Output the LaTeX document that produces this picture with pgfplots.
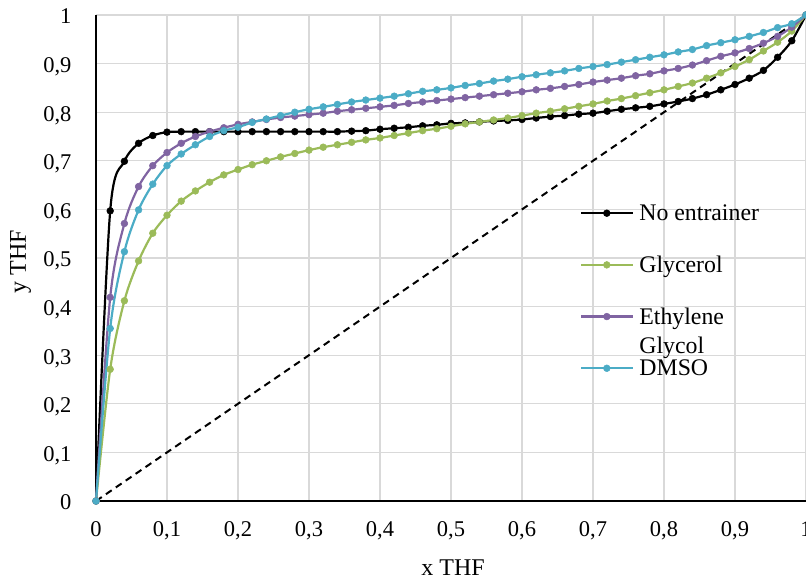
\documentclass[border=0pt]{standalone}
\usepackage{pgfplots}
\pgfplotsset{compat=1.18}
\usepackage{fontspec}
\setmainfont{Liberation Serif}
\definecolor{cBlack}{HTML}{000000}
\definecolor{cGreen}{HTML}{9BBB59}
\definecolor{cPurple}{HTML}{8064A2}
\definecolor{cCyan}{HTML}{4BACC6}
\definecolor{cGrid}{HTML}{D9D9D9}
\newcommand{\EG}{\begin{tabular}[t]{@{}l@{}}Ethylene\\Glycol\end{tabular}}
\begin{document}
\begin{tikzpicture}
\useasboundingbox (-96pt,-79pt) rectangle (710pt,501pt);
\clip (-96pt,-79pt) rectangle (710pt,501pt);
\begin{axis}[
  scale only axis, width=710pt, height=486pt,
  xmin=0, xmax=1, ymin=0, ymax=1,
  clip=false,
  axis x line*=bottom, axis y line*=left,
  axis line style={-, black, line width=1.6pt},
  xtick={0,0.1,0.2,0.3,0.4,0.5,0.6,0.7,0.8,0.9,1},
  ytick={0,0.1,0.2,0.3,0.4,0.5,0.6,0.7,0.8,0.9,1},
  major tick length=0pt, tick style={draw=none},
  grid=major, major grid style={draw=cGrid, line width=1.3pt},
  /pgf/number format/.cd, use comma, fixed, assume math mode=true, 1000 sep={},
  /pgfplots/.cd,
  tick label style={font=\fontsize{22.5}{27}\selectfont},
  xticklabel style={anchor=base, yshift=-36pt},
  yticklabel style={anchor=base east, xshift=-21pt, yshift=-9pt},
  xlabel={x THF}, ylabel={y THF},
  label style={font=\fontsize{24}{29}\selectfont},
  xlabel style={at={(axis description cs:0.503,-0.1523)}, anchor=base},
  ylabel style={at={(axis description cs:-0.0986,0.492)}, anchor=base},
  legend cell align=left,
  legend style={draw=none, fill=none, at={(axis description cs:0.6817,0.620)}, anchor=north west,
    inner sep=0pt, row sep=25.1pt, column sep=6pt,
    nodes={inner sep=0pt, text height=21pt, text depth=5.6pt, font=\fontsize{23.8}{29}\selectfont}},
  legend image code/.code={\draw[mark repeat=2,mark phase=2,#1] plot coordinates {(0pt,0pt) (25.5pt,0pt) (51pt,0pt)};},
  every axis plot/.append style={line width=2.2pt, mark=*, mark size=3.4pt, smooth, tension=0.5},
]
\addplot[black, line width=2pt, dash pattern=on 7pt off 5pt, mark=none, sharp plot, forget plot] coordinates {(0,0) (1,1)};
\addplot[cBlack, mark options={fill=cBlack, draw=cBlack, line width=0.5pt}] coordinates {
(0,0) (0.02,0.597) (0.04,0.699) (0.06,0.736) (0.08,0.752) (0.10,0.759) (0.12,0.760) (0.14,0.760)
(0.16,0.760) (0.18,0.760) (0.20,0.760) (0.22,0.760) (0.24,0.760) (0.26,0.760) (0.28,0.760) (0.30,0.760)
(0.32,0.760) (0.34,0.760) (0.36,0.761) (0.38,0.762) (0.40,0.765) (0.42,0.767) (0.44,0.769) (0.46,0.772)
(0.48,0.774) (0.50,0.777) (0.52,0.778) (0.54,0.780) (0.56,0.782) (0.58,0.783) (0.60,0.785) (0.62,0.788)
(0.64,0.791) (0.66,0.793) (0.68,0.796) (0.70,0.798) (0.72,0.802) (0.74,0.806) (0.76,0.809) (0.78,0.812)
(0.80,0.817) (0.82,0.822) (0.84,0.828) (0.86,0.836) (0.88,0.846) (0.90,0.857) (0.92,0.870) (0.94,0.886)
(0.96,0.913) (0.98,0.947) (1,1)};
\addlegendentry{No entrainer}
\addplot[cGreen, mark options={fill=cGreen, draw=cGreen, line width=0.5pt}] coordinates {
(0,0) (0.02,0.271) (0.04,0.412) (0.06,0.494) (0.08,0.551) (0.10,0.588) (0.12,0.617) (0.14,0.638)
(0.16,0.656) (0.18,0.671) (0.20,0.682) (0.22,0.692) (0.24,0.700) (0.26,0.708) (0.28,0.715) (0.30,0.722)
(0.32,0.728) (0.34,0.733) (0.36,0.738) (0.38,0.743) (0.40,0.747) (0.42,0.752) (0.44,0.757) (0.46,0.762)
(0.48,0.766) (0.50,0.771) (0.52,0.776) (0.54,0.780) (0.56,0.784) (0.58,0.788) (0.60,0.793) (0.62,0.798)
(0.64,0.802) (0.66,0.807) (0.68,0.812) (0.70,0.817) (0.72,0.823) (0.74,0.828) (0.76,0.834) (0.78,0.840)
(0.80,0.846) (0.82,0.853) (0.84,0.860) (0.86,0.870) (0.88,0.881) (0.90,0.894) (0.92,0.908) (0.94,0.926)
(0.96,0.944) (0.98,0.967) (1,1)};
\addlegendentry{Glycerol}
\addplot[cPurple, mark options={fill=cPurple, draw=cPurple, line width=0.5pt}] coordinates {
(0,0) (0.02,0.419) (0.04,0.571) (0.06,0.647) (0.08,0.690) (0.10,0.717) (0.12,0.736) (0.14,0.750)
(0.16,0.760) (0.18,0.768) (0.20,0.775) (0.22,0.780) (0.24,0.785) (0.26,0.789) (0.28,0.792) (0.30,0.795)
(0.32,0.798) (0.34,0.802) (0.36,0.805) (0.38,0.808) (0.40,0.811) (0.42,0.814) (0.44,0.818) (0.46,0.821)
(0.48,0.824) (0.50,0.827) (0.52,0.830) (0.54,0.833) (0.56,0.836) (0.58,0.839) (0.60,0.842) (0.62,0.846)
(0.64,0.849) (0.66,0.853) (0.68,0.857) (0.70,0.862) (0.72,0.866) (0.74,0.870) (0.76,0.875) (0.78,0.879)
(0.80,0.885) (0.82,0.890) (0.84,0.897) (0.86,0.906) (0.88,0.915) (0.90,0.922) (0.92,0.931) (0.94,0.942)
(0.96,0.956) (0.98,0.975) (1,1)};
\addlegendentry{\EG}
\addplot[cCyan, mark options={fill=cCyan, draw=cCyan, line width=0.5pt}] coordinates {
(0,0) (0.02,0.355) (0.04,0.513) (0.06,0.599) (0.08,0.652) (0.10,0.690) (0.12,0.714) (0.14,0.733)
(0.16,0.750) (0.18,0.762) (0.20,0.769) (0.22,0.779) (0.24,0.786) (0.26,0.793) (0.28,0.800) (0.30,0.806)
(0.32,0.811) (0.34,0.816) (0.36,0.821) (0.38,0.825) (0.40,0.829) (0.42,0.833) (0.44,0.838) (0.46,0.843)
(0.48,0.846) (0.50,0.850) (0.52,0.855) (0.54,0.859) (0.56,0.864) (0.58,0.868) (0.60,0.873) (0.62,0.877)
(0.64,0.881) (0.66,0.885) (0.68,0.890) (0.70,0.894) (0.72,0.898) (0.74,0.903) (0.76,0.908) (0.78,0.913)
(0.80,0.918) (0.82,0.924) (0.84,0.929) (0.86,0.937) (0.88,0.943) (0.90,0.949) (0.92,0.956) (0.94,0.964)
(0.96,0.974) (0.98,0.982) (1,1)};
\addlegendentry{DMSO}
\end{axis}
\end{tikzpicture}
\end{document}
